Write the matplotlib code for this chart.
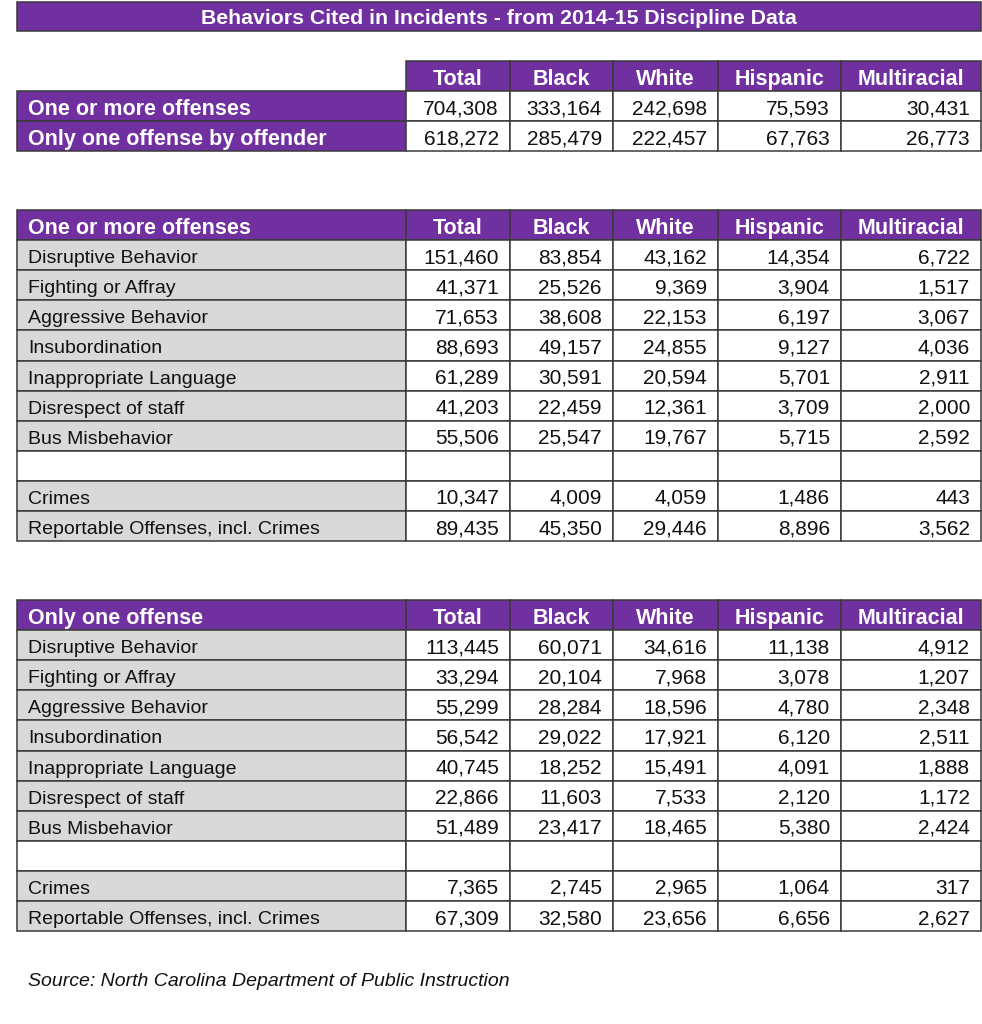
import matplotlib
matplotlib.use('Agg')
from matplotlib import pyplot as plt
from matplotlib.patches import Rectangle

plt.rcParams['font.family'] = ['Liberation Sans', 'DejaVu Sans']

#data
title = 'Behaviors Cited in Incidents - from 2014-15 Discipline Data'
columns = ['Total', 'Black', 'White', 'Hispanic', 'Multiracial']

summary_labels = ['One or more offenses', 'Only one offense by offender']
summary_values = [
    [704308, 333164, 242698, 75593, 30431],
    [618272, 285479, 222457, 67763, 26773],
]

behavior_labels = ['Disruptive Behavior', 'Fighting or Affray', 'Aggressive Behavior',
                   'Insubordination', 'Inappropriate Language', 'Disrespect of staff',
                   'Bus Misbehavior', '', 'Crimes', 'Reportable Offenses, incl. Crimes']
multi_values = [
    [151460, 83854, 43162, 14354, 6722],
    [41371, 25526, 9369, 3904, 1517],
    [71653, 38608, 22153, 6197, 3067],
    [88693, 49157, 24855, 9127, 4036],
    [61289, 30591, 20594, 5701, 2911],
    [41203, 22459, 12361, 3709, 2000],
    [55506, 25547, 19767, 5715, 2592],
    None,
    [10347, 4009, 4059, 1486, 443],
    [89435, 45350, 29446, 8896, 3562],
]
single_values = [
    [113445, 60071, 34616, 11138, 4912],
    [33294, 20104, 7968, 3078, 1207],
    [55299, 28284, 18596, 4780, 2348],
    [56542, 29022, 17921, 6120, 2511],
    [40745, 18252, 15491, 4091, 1888],
    [22866, 11603, 7533, 2120, 1172],
    [51489, 23417, 18465, 5380, 2424],
    None,
    [7365, 2745, 2965, 1064, 317],
    [67309, 32580, 23656, 6656, 2627],
]
source = 'Source: North Carolina Department of Public Instruction'

#layout (pixels)
purple = '#7030A0'
gray = '#D9D9D9'
edge = '#3a3a3a'
lw = 1.1
left = 17
col_x = [406, 510, 613, 718, 841, 981]
row_h = 30.1
bold_fs = 15.5

fig = plt.figure(figsize=(9.82, 10.24), dpi=100)
ax = fig.add_axes([0, 0, 1, 1])
ax.set_xlim(0, 982)
ax.set_ylim(1024, 0)
ax.axis('off')


def cell(x0, x1, y0, fc):
    ax.add_patch(Rectangle((x0, y0), x1 - x0, row_h, facecolor=fc, edgecolor=edge, linewidth=lw))


def header_row(y0, label):
    if label:
        cell(left, col_x[0], y0, purple)
        ax.text(left + 11, y0 + row_h / 2 + 3, label, color='white', fontsize=bold_fs,
                fontweight='bold', ha='left', va='center')
    for i, c in enumerate(columns):
        cell(col_x[i], col_x[i + 1], y0, purple)
        ax.text((col_x[i] + col_x[i + 1]) / 2, y0 + row_h / 2 + 3, c, color='white',
                fontsize=bold_fs, fontweight='bold', ha='center', va='center')


def number_cells(y0, vals):
    for i in range(len(columns)):
        cell(col_x[i], col_x[i + 1], y0, 'white')
        if vals is not None:
            ax.text(col_x[i + 1] - 11, y0 + row_h / 2 + 2.5, f'{vals[i]:,}', color='#111111',
                    fontsize=15, ha='right', va='center')


#title bar
ax.add_patch(Rectangle((left, 2), 981 - left, 29, facecolor=purple, edgecolor=edge, linewidth=lw))
ax.text(499, 19, title, color='white', fontsize=15.3, fontweight='bold', ha='center', va='center')

#summary table
y = 61
header_row(y, None)
for lab, vals in zip(summary_labels, summary_values):
    y += row_h
    cell(left, col_x[0], y, purple)
    ax.text(left + 11, y + row_h / 2 + 3, lab, color='white', fontsize=bold_fs,
            fontweight='bold', ha='left', va='center')
    number_cells(y, vals)

#behavior tables
for y_start, head, values in [(210, 'One or more offenses', multi_values),
                              (600, 'Only one offense', single_values)]:
    y = y_start
    header_row(y, head)
    for lab, vals in zip(behavior_labels, values):
        y += row_h
        cell(left, col_x[0], y, gray if vals is not None else 'white')
        ax.text(left + 11, y + row_h / 2 + 3.5, lab, color='#111111', fontsize=14,
                ha='left', va='center')
        number_cells(y, vals)

ax.text(28, 981, source, fontsize=14, style='italic', color='#111111', ha='left', va='center')

fig.savefig('out.png', dpi=100)
